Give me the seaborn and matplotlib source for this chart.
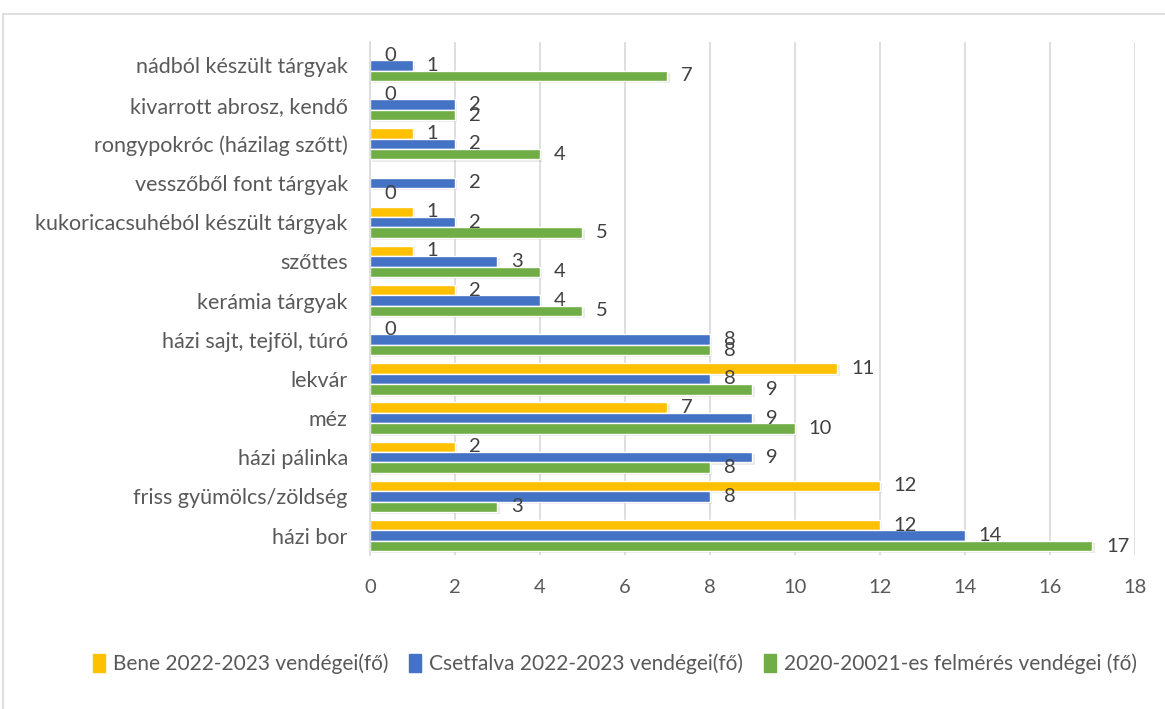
import matplotlib.pyplot as plt
import matplotlib.patheffects as pe
from matplotlib.lines import Line2D
import seaborn as sns
import numpy as np
import pandas as pd

categories = [
    "nádból készült tárgyak",
    "kivarrott abrosz, kendő",
    "rongypokróc (házilag szőtt)",
    "vesszőből font tárgyak",
    "kukoricacsuhéból készült tárgyak",
    "szőttes",
    "kerámia tárgyak",
    "házi sajt, tejföl, túró",
    "lekvár",
    "méz",
    "házi pálinka",
    "friss gyümölcs/zöldség",
    "házi bor",
]
series = [
    "Bene 2022-2023 vendégei(fő)",
    "Csetfalva 2022-2023 vendégei(fő)",
    "2020-20021-es felmérés vendégei (fő)",
]
bene = [0, 0, 1, np.nan, 1, 1, 2, 0, 11, 7, 2, 12, 12]
csetfalva = [1, 2, 2, 2, 2, 3, 4, 8, 8, 9, 9, 8, 14]
felmeres = [7, 2, 4, 0, 5, 4, 5, 8, 9, 10, 8, 3, 17]
colors = ["#FFC000", "#4472C4", "#70AD47"]

df = pd.DataFrame({
    "kategoria": categories * 3,
    "sorozat": [series[0]] * 13 + [series[1]] * 13 + [series[2]] * 13,
    "ertek": bene + csetfalva + felmeres,
})

sns.set_theme(style="white")
plt.rcParams["font.family"] = ["Lato", "DejaVu Sans"]
text_col = "#595959"

fig = plt.figure(figsize=(11.65, 7.09), dpi=100)
ax = fig.add_axes([0.3176, 0.217, 0.6566, 0.7238])

sns.barplot(data=df, y="kategoria", x="ertek", hue="sorozat", order=categories,
            hue_order=series, palette=colors, orient="h", width=0.8, ax=ax,
            legend=False, saturation=1)

for cont in ax.containers:
    for bar in cont:
        bar.set_path_effects([pe.SimplePatchShadow(offset=(1.5, -1.5), alpha=0.12, shadow_rgbFace="#555555"),
                              pe.Normal()])
    ax.bar_label(cont, fmt="%g", padding=10, fontsize=14.5, color="#404040")

ax.set_xlim(0, 18)
ax.set_xticks(range(0, 19, 2))
ax.set_ylim(12.5, -0.6)
ax.grid(axis="x", color="#D9D9D9", lw=1.2)
ax.set_axisbelow(True)
for s in ["top", "right", "bottom"]:
    ax.spines[s].set_visible(False)
ax.spines["left"].set_color("#D9D9D9")
ax.spines["left"].set_linewidth(1.2)
ax.set_xlabel("")
ax.set_ylabel("")
ax.tick_params(axis="both", length=0, labelsize=14.5, colors=text_col)
ax.tick_params(axis="y", pad=16, labelsize=15.5)
ax.tick_params(axis="x", pad=17)

handles = [plt.Rectangle((0, 0), 1, 1, color=c) for c in colors]
fig.legend(handles, series, loc="center", bbox_to_anchor=(0.528, 0.0635), ncol=3,
           frameon=False, fontsize=15, handlelength=0.55, handleheight=1.0,
           handletextpad=0.4, columnspacing=1.0, labelcolor=text_col)

# chart frame
fig.add_artist(Line2D([3 / 1165, 1], [1 - 14 / 709] * 2, color="#D9D9D9", lw=1.2))
fig.add_artist(Line2D([3 / 1165] * 2, [0, 1 - 14 / 709], color="#D9D9D9", lw=1.2))

fig.savefig("out.png", dpi=100)
